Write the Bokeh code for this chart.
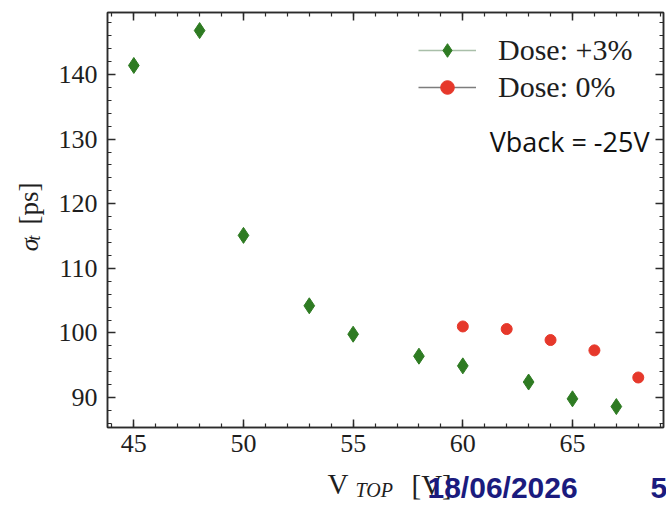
from bokeh.plotting import figure
from bokeh.layouts import column, row
from bokeh.models import (Range1d, LinearAxis, FixedTicker, Label, Legend,
                          LegendItem)
from bokeh.embed import file_html
from bokeh.resources import INLINE

# ---------------- data ----------------
vtop_dose3 = [45, 48, 50, 53, 55, 58, 60, 63, 65, 67]
sigma_dose3 = [141.4, 146.8, 115.1, 104.2, 99.8, 96.4, 94.9, 92.4, 89.8, 88.6]
vtop_dose0 = [60, 62, 64, 66, 68]
sigma_dose0 = [101.0, 100.6, 98.9, 97.3, 93.1]
series_labels = ["Dose: +3%", "Dose: 0%"]
x_major_ticks = [45, 50, 55, 60, 65]
y_major_ticks = [90, 100, 110, 120, 130, 140]
x_minor_ticks = list(range(44, 70))
y_minor_ticks = list(range(86, 150, 2))

# ---------------- layout ----------------
TOTAL_W, TOTAL_H = 666, 505
YLAB_W = 50
FOOT_H = 41
MAIN_W, MAIN_H = TOTAL_W - YLAB_W, TOTAL_H - FOOT_H
BL, BR, BT, BB = 57, 3, 12, 37
X0, X1 = 43.8, 69.15
Y0, Y1 = 85.36, 149.6
FW = MAIN_W - BL - BR
FH = MAIN_H - BT - BB

GREEN = "#2e7b22"
RED = "#e6382b"
AX = "#2b2b2b"
TXT = "#1e1e1e"
SERIF = "Liberation Serif"
NAVY = "#1b1b7e"

p = figure(width=MAIN_W, height=MAIN_H, x_range=Range1d(X0, X1),
           y_range=Range1d(Y0, Y1), output_backend="svg", toolbar_location=None,
           title=None, min_border_left=BL, min_border_right=BR,
           min_border_top=BT, min_border_bottom=BB,
           background_fill_color="white", border_fill_color="white")
p.xgrid.visible = False
p.ygrid.visible = False
p.outline_line_color = AX
p.outline_line_width = 1.5


def style_axis(ax, labels=True, standoff=5):
    ax.axis_line_color = AX
    ax.axis_line_width = 1.5
    ax.major_tick_line_color = AX
    ax.minor_tick_line_color = AX
    ax.major_tick_line_width = 1.5
    ax.minor_tick_line_width = 1.2
    ax.major_tick_in = 8
    ax.major_tick_out = 0
    ax.minor_tick_in = 4
    ax.minor_tick_out = 0
    if labels:
        ax.major_label_text_font = SERIF
        ax.major_label_text_font_size = "26px"
        ax.major_label_text_color = TXT
        ax.major_label_standoff = standoff
    else:
        ax.major_label_text_font_size = "0px"
        ax.major_label_text_color = None
        ax.major_label_standoff = 0


p.xaxis.ticker = FixedTicker(ticks=x_major_ticks, minor_ticks=x_minor_ticks)
p.yaxis.ticker = FixedTicker(ticks=y_major_ticks, minor_ticks=y_minor_ticks)
style_axis(p.xaxis[0], True, 7)
style_axis(p.yaxis[0], True, 10)

top_ax = LinearAxis(ticker=FixedTicker(ticks=x_major_ticks, minor_ticks=x_minor_ticks))
right_ax = LinearAxis(ticker=FixedTicker(ticks=y_major_ticks, minor_ticks=y_minor_ticks))
style_axis(top_ax, False)
style_axis(right_ax, False)
p.add_layout(top_ax, "above")
p.add_layout(right_ax, "right")

# ---------------- data marks ----------------
r3 = p.scatter(vtop_dose3, sigma_dose3, marker="diamond", size=16,
               fill_color=GREEN, line_color=GREEN)
r0 = p.scatter(vtop_dose0, sigma_dose0, marker="circle", size=11,
               fill_color=RED, line_color=RED)
# legend-only line proxies (NaN -> nothing drawn in the plot area)
nan = float("nan")
l3 = p.line(x=[nan], y=[nan], line_color="#a9bfa9", line_width=1.5)
l0 = p.line(x=[nan], y=[nan], line_color="#7d7d7d", line_width=1.5)

LEG_ROW = 34
LEG_SP = 3
legend = Legend(items=[LegendItem(label=series_labels[0], renderers=[l3, r3]),
                       LegendItem(label=series_labels[1], renderers=[l0, r0])],
                location=(311, FH - 21 - (2 * LEG_ROW + LEG_SP)), padding=0,
                margin=0, spacing=LEG_SP, glyph_width=58, glyph_height=LEG_ROW,
                label_height=LEG_ROW, label_standoff=22, border_line_color=None,
                background_fill_alpha=0, label_text_font=SERIF,
                label_text_font_size="30px", label_text_color=TXT)
p.add_layout(legend)


def fx(page_x):
    return X0 + (page_x - YLAB_W - BL) / FW * (X1 - X0)


def fy(page_y):
    return Y1 - (page_y - BT) / FH * (Y1 - Y0)


p.add_layout(Label(x=fx(649), y=fy(141), text="Vback = -25V", text_align="right",
                   text_baseline="middle", text_font="Open Sans",
                   text_font_size="27px", text_color="#111111"))


def text_panel(w, h, top):
    f = figure(width=w, height=h, x_range=Range1d(0, w),
               y_range=Range1d(top + h, top), output_backend="svg",
               toolbar_location=None, title=None, min_border=0,
               x_axis_location=None, y_axis_location=None,
               outline_line_color=None, background_fill_color="white",
               border_fill_color="white")
    f.xgrid.visible = False
    f.ygrid.visible = False
    return f


# ---------------- y-axis label panel ----------------
ylab = text_panel(YLAB_W, MAIN_H, 0)
ANG = 1.5707963
ylab.add_layout(Label(x=29, y=267, text="σ", angle=ANG, text_font=SERIF,
                      text_font_style="italic", text_font_size="26px",
                      text_color=TXT, text_baseline="middle"))
ylab.add_layout(Label(x=33, y=255, text="t", angle=ANG, text_font=SERIF,
                      text_font_style="italic", text_font_size="18px",
                      text_color=TXT, text_baseline="middle"))
ylab.add_layout(Label(x=28, y=237, text="[ps]", angle=ANG, text_font=SERIF,
                      text_font_size="27px", text_color=TXT,
                      text_baseline="middle"))

# ---------------- footer panel (x label + slide footer) ----------------
foot = text_panel(TOTAL_W, FOOT_H, MAIN_H)
foot.add_layout(Label(x=327, y=483, text="V", text_font=SERIF,
                      text_font_size="29px", text_color=TXT,
                      text_baseline="middle"))
foot.add_layout(Label(x=355, y=489, text="TOP", text_font=SERIF,
                      text_font_style="italic", text_font_size="20px",
                      text_color=TXT, text_baseline="middle"))
foot.add_layout(Label(x=411, y=484, text="[V]", text_font=SERIF,
                      text_font_size="29px", text_color=TXT,
                      text_baseline="middle"))
foot.add_layout(Label(x=427, y=487, text="18/06/2026", text_font="Liberation Sans",
                      text_font_style="bold", text_font_size="30px",
                      text_color=NAVY, text_baseline="middle"))
foot.add_layout(Label(x=650, y=487, text="5", text_font="Liberation Sans",
                      text_font_style="bold", text_font_size="30px",
                      text_color=NAVY, text_baseline="middle"))

layout = column(row(ylab, p), foot)
open("out.html", "w").write(file_html(layout, INLINE))
